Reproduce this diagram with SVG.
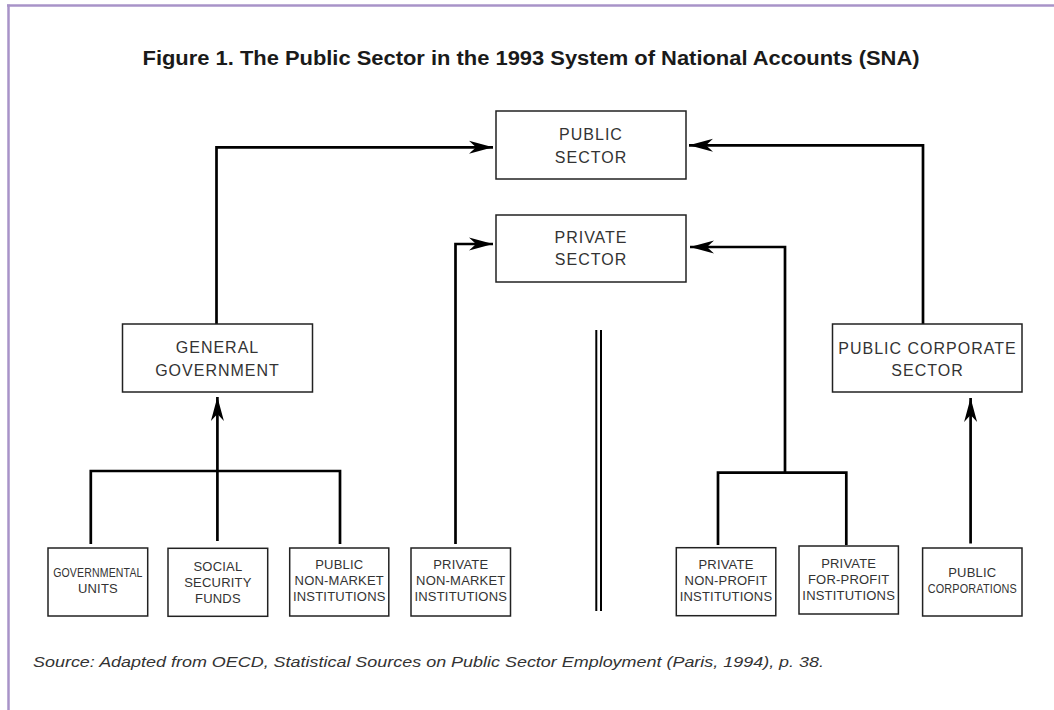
<svg xmlns="http://www.w3.org/2000/svg" width="1054" height="710" viewBox="0 0 1054 710">
<style>
.box{fill:#fff;stroke:#222;stroke-width:1.5}
.t{font-family:"Liberation Sans",Arial,sans-serif;font-size:16px;letter-spacing:1px;fill:#333;text-anchor:middle}
.s{font-family:"Liberation Sans",Arial,sans-serif;font-size:13px;letter-spacing:0.2px;fill:#333;text-anchor:middle}
.ln{fill:none;stroke:#000;stroke-width:2.7;stroke-linejoin:miter}
.dl{fill:none;stroke:#000;stroke-width:2}
</style>
<defs>
<marker id="ah" viewBox="-25 -7 26 14" refX="0" refY="0" markerWidth="26" markerHeight="14" markerUnits="userSpaceOnUse" orient="auto">
<path d="M0,0 L-24,-6.5 L-17,0 L-24,6.5 Z" fill="#000"/>
</marker>
</defs>
<rect x="0" y="0" width="1054" height="710" fill="#fff"/>
<g id="frame">
<line x1="7" y1="5.5" x2="1054" y2="5.5" stroke="#a893c8" stroke-width="2.5"/>
<line x1="8.5" y1="4.5" x2="8.5" y2="710" stroke="#a893c8" stroke-width="2.5"/>
</g>
<text x="531" y="65" font-family="'Liberation Sans',Arial,sans-serif" font-size="20" font-weight="bold" fill="#1a1a1a" text-anchor="middle" textLength="777" lengthAdjust="spacingAndGlyphs">Figure 1. The Public Sector in the 1993 System of National Accounts (SNA)</text>
<g id="connectors">
<polyline class="ln" points="216.5,324 216.5,147.3 493,147.3" marker-end="url(#ah)"/>
<polyline class="ln" points="455.5,544 455.5,244 493,244" marker-end="url(#ah)"/>
<polyline class="ln" points="923,324 923,145.3 689,145.3" marker-end="url(#ah)"/>
<polyline class="ln" points="785,472.7 785,247 690,247" marker-end="url(#ah)"/>
<polyline class="ln" points="90.8,544 90.8,471 340,471 340,544"/>
<line class="ln" x1="217.4" y1="541" x2="217.4" y2="397" marker-end="url(#ah)"/>
<polyline class="ln" points="718,545 718,472.7 846.3,472.7 846.3,545"/>
<line class="ln" x1="970.6" y1="543.5" x2="970.6" y2="398" marker-end="url(#ah)"/>
<line class="dl" x1="596.3" y1="330" x2="596.3" y2="611"/>
<line class="dl" x1="601" y1="330" x2="601" y2="611"/>
</g>
<g id="public-sector">
<rect class="box" x="496" y="111" width="190" height="68"/>
<text class="t" x="591" y="139.5">PUBLIC</text>
<text class="t" x="591" y="162.7">SECTOR</text>
</g>
<g id="private-sector">
<rect class="box" x="496" y="215" width="190" height="67"/>
<text class="t" x="591" y="243.3">PRIVATE</text>
<text class="t" x="591" y="265.3">SECTOR</text>
</g>
<g id="general-government">
<rect class="box" x="122.5" y="324" width="190" height="68"/>
<text class="t" x="217.5" y="353.3">GENERAL</text>
<text class="t" x="217.5" y="376">GOVERNMENT</text>
</g>
<g id="public-corporate-sector">
<rect class="box" x="832.5" y="324" width="189.5" height="68"/>
<text class="t" x="927.5" y="353.5">PUBLIC CORPORATE</text>
<text class="t" x="927.5" y="375.5">SECTOR</text>
</g>
<g id="governmental-units">
<rect class="box" x="48" y="548" width="99.7" height="68"/>
<text class="s" x="97.9" y="577.3" textLength="89.5" lengthAdjust="spacingAndGlyphs">GOVERNMENTAL</text>
<text class="s" x="97.9" y="593.3">UNITS</text>
</g>
<g id="social-security-funds">
<rect class="box" x="168" y="548.3" width="99.7" height="68"/>
<text class="s" x="217.9" y="570.7">SOCIAL</text>
<text class="s" x="217.9" y="587">SECURITY</text>
<text class="s" x="217.9" y="602.7">FUNDS</text>
</g>
<g id="public-non-market">
<rect class="box" x="289.7" y="548" width="99.1" height="68"/>
<text class="s" x="339.3" y="569.3">PUBLIC</text>
<text class="s" x="339.3" y="585.3">NON-MARKET</text>
<text class="s" x="339.3" y="601.3">INSTITUTIONS</text>
</g>
<g id="private-non-market">
<rect class="box" x="411" y="548" width="99.5" height="68"/>
<text class="s" x="460.8" y="569.3">PRIVATE</text>
<text class="s" x="460.8" y="585.3">NON-MARKET</text>
<text class="s" x="460.8" y="601.3">INSTITUTIONS</text>
</g>
<g id="private-non-profit">
<rect class="box" x="676.3" y="547.7" width="99.5" height="68"/>
<text class="s" x="726" y="569.3">PRIVATE</text>
<text class="s" x="726" y="585.3">NON-PROFIT</text>
<text class="s" x="726" y="601.3">INSTITUTIONS</text>
</g>
<g id="private-for-profit">
<rect class="box" x="799" y="546" width="99.4" height="68"/>
<text class="s" x="848.7" y="568">PRIVATE</text>
<text class="s" x="848.7" y="584.3">FOR-PROFIT</text>
<text class="s" x="848.7" y="600">INSTITUTIONS</text>
</g>
<g id="public-corporations">
<rect class="box" x="922.6" y="548" width="99.4" height="68"/>
<text class="s" x="972.3" y="577.3">PUBLIC</text>
<text class="s" x="972.3" y="593.3" textLength="89.3" lengthAdjust="spacingAndGlyphs">CORPORATIONS</text>
</g>
<text x="33" y="667" font-family="'Liberation Sans',Arial,sans-serif" font-size="14" font-style="italic" fill="#333" textLength="791" lengthAdjust="spacingAndGlyphs">Source: Adapted from OECD, Statistical Sources on Public Sector Employment (Paris, 1994), p. 38.</text>
</svg>
